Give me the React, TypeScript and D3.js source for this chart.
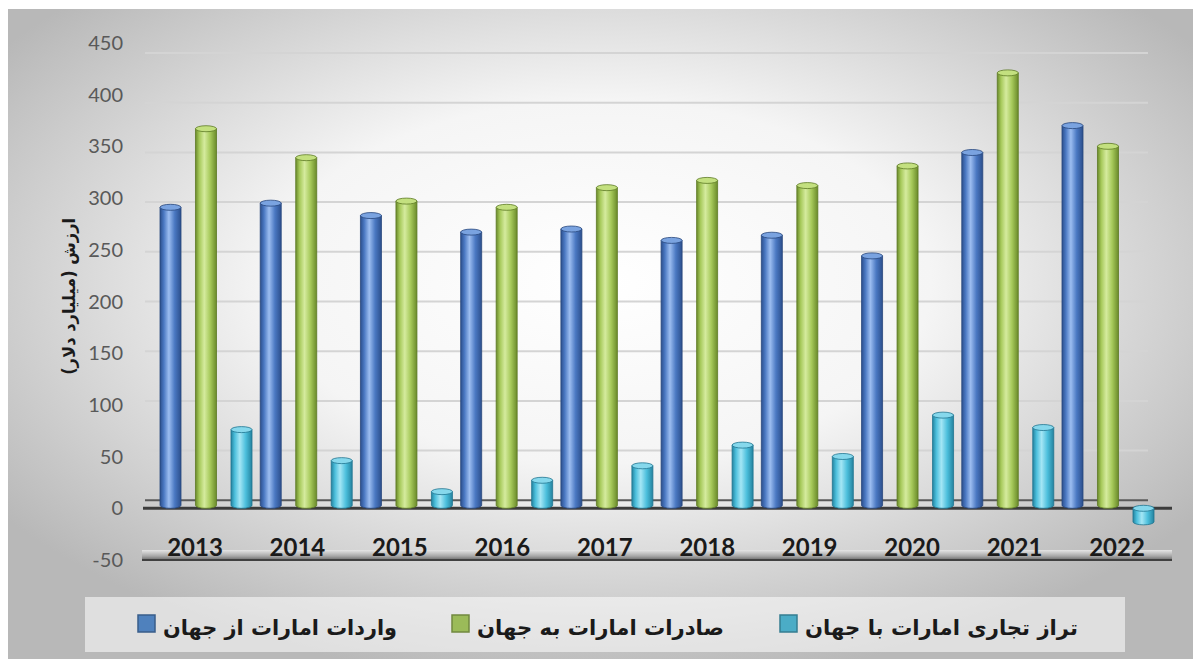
import React from 'react';
import * as d3 from 'd3';

const years = ['2013', '2014', '2015', '2016', '2017', '2018', '2019', '2020', '2021', '2022'];
const importsVals = [294, 298, 286, 270, 273, 262, 267, 247, 347, 373];
const exportsVals = [370, 342, 300, 294, 313, 320, 315, 334, 424, 353];
const balanceVals = [79, 49, 19, 30, 44, 64, 53, 93, 81, -16];
const seriesNames = ['واردات امارات از جهان', 'صادرات امارات به جهان', 'تراز تجاری امارات با جهان'];
const yTicks = [-50, 0, 50, 100, 150, 200, 250, 300, 350, 400, 450];
const yTitle = 'ارزش (میلیارد دلار)';

const W = 1193;
const H = 659;

const seriesStyle = [
  { id: 'gBlue', dark: '#2c4f8c', mid: '#4a78c2', light: '#9cbdf0', cap: '#7aa3e0', edge: '#27467c', legend: '#4f81bd', legendEdge: '#385d8a' },
  { id: 'gGreen', dark: '#6a8a2a', mid: '#a6c95a', light: '#d5eb9e', cap: '#c3e07f', edge: '#5d7a24', legend: '#9bbb59', legendEdge: '#71893f' },
  { id: 'gCyan', dark: '#24839f', mid: '#4cbfdc', light: '#a4e6f5', cap: '#86d8ec', edge: '#1f7590', legend: '#4bacc6', legendEdge: '#357d91' },
];

export default function App() {
  const series = [importsVals, exportsVals, balanceVals];
  const yFront = d3.scaleLinear().domain([-50, 450]).range([560, 43]);
  const yBack = d3.scaleLinear().domain([-50, 450]).range([550, 53]);
  const x = d3.scaleBand().domain(years).range([160, 1154]).paddingInner(0.082).paddingOuter(0);
  const xInner = d3.scaleBand<number>().domain([0, 1, 2]).range([0, x.bandwidth()]).paddingInner(0.408).paddingOuter(0);
  const xLabel = d3.scalePoint().domain(years).range([195, 1117]);
  const legendSq = d3.scaleOrdinal<number, number>().domain([0, 1, 2]).range([138, 452, 780]);
  const legendLen = d3.scaleOrdinal<number, number>().domain([0, 1, 2]).range([234, 247, 273]);

  const cyl = (bx: number, w: number, yTop: number, yBot: number) => {
    const r = 3;
    return `M${bx},${yTop + r} L${bx},${yBot} A${w / 2},${r} 0 0 0 ${bx + w},${yBot} L${bx + w},${yTop + r} Z`;
  };

  return (
    <svg width={W} height={H} style={{ position: 'absolute', left: 0, top: 0 }}>
      <defs>
        <radialGradient id="bg" cx="50%" cy="42%" r="62%">
          <stop offset="0%" stopColor="#ffffff" />
          <stop offset="45%" stopColor="#f5f5f5" />
          <stop offset="100%" stopColor="#b8b8b8" />
        </radialGradient>
        {seriesStyle.map((s) => (
          <linearGradient key={s.id} id={s.id} x1="0" x2="1" y1="0" y2="0">
            <stop offset="0%" stopColor={s.dark} />
            <stop offset="18%" stopColor={s.mid} />
            <stop offset="42%" stopColor={s.light} />
            <stop offset="70%" stopColor={s.mid} />
            <stop offset="100%" stopColor={s.dark} />
          </linearGradient>
        ))}
        <linearGradient id="floor" x1="0" x2="0" y1="0" y2="1">
          <stop offset="0%" stopColor="#e6e6e6" />
          <stop offset="60%" stopColor="#a8a8a8" />
          <stop offset="100%" stopColor="#6a6a6a" />
        </linearGradient>
      </defs>
      <rect x={0} y={0} width={W} height={H} fill="#ffffff" />
      <rect x={8} y={9} width={W - 8} height={H - 9} fill="url(#bg)" />

      {/* back-wall gridlines */}
      {yTicks.filter((t) => t > 0).map((t) => (
        <line key={t} x1={145} x2={1148} y1={yBack(t)} y2={yBack(t)} stroke="#d4d4d4" strokeWidth={2} />
      ))}
      <line x1={145} x2={1148} y1={yBack(0)} y2={yBack(0)} stroke="#5a5a5a" strokeWidth={2} />
      {/* floor front edge at -50 */}
      <rect x={142} y={yBack(-50)} width={1030} height={yFront(-50) - yBack(-50)} fill="url(#floor)" />
      <line x1={142} x2={1172} y1={yFront(-50)} y2={yFront(-50)} stroke="#404040" strokeWidth={2} />
      {/* zero plane front edge */}
      <line x1={143} x2={1172} y1={yFront(0)} y2={yFront(0)} stroke="#3c3c3c" strokeWidth={3} />

      {/* y tick labels */}
      {yTicks.map((t) => (
        <text key={t} x={123} y={yFront(t) + 7} textAnchor="end" fontFamily="Lato, 'Open Sans', sans-serif" fontSize={20} fill="#595959">
          {t}
        </text>
      ))}

      {/* y axis title */}
      <text
        transform={`translate(75, ${yFront(205)}) rotate(-90)`}
        textAnchor="middle"
        direction="rtl"
        style={{ direction: 'rtl' }}
        fontFamily="'DejaVu Sans', sans-serif"
        fontWeight="bold"
        fontSize={17}
        textLength={157}
        lengthAdjust="spacingAndGlyphs"
        fill="#1a1a1a"
      >
        {yTitle}
      </text>

      {/* bars */}
      {years.map((yr, i) => (
        <g key={yr}>
          {series.map((vals, s) => {
            const v = vals[i];
            const bx = (x(yr) as number) + (xInner(s) as number);
            const bw = xInner.bandwidth();
            const top = v >= 0 ? yFront(v) : yFront(0) - 3;
            const bot = v >= 0 ? yFront(0) - 3 : yFront(v) - 3;
            const st = seriesStyle[s];
            return (
              <g key={s}>
                <path d={cyl(bx, bw, top, bot)} fill={`url(#${st.id})`} stroke={st.edge} strokeWidth={0.8} />
                <ellipse cx={bx + bw / 2} cy={top + 3} rx={bw / 2} ry={3} fill={st.cap} stroke={st.edge} strokeWidth={0.8} />
              </g>
            );
          })}
        </g>
      ))}

      {/* x labels */}
      {years.map((yr) => (
        <text key={yr} x={xLabel(yr)} y={556} textAnchor="middle" fontFamily="Lato, 'Open Sans', sans-serif" fontWeight="bold" fontSize={24} fill="#1a1a1a">
          {yr}
        </text>
      ))}

      {/* legend */}
      <rect x={85} y={597} width={1040} height={55} fill="#ffffff" fillOpacity={0.55} />
      {seriesNames.map((name, s) => (
        <g key={name}>
          <rect x={legendSq(s)} y={615} width={17} height={17} fill={seriesStyle[s].legend} stroke={seriesStyle[s].legendEdge} strokeWidth={1.5} />
          <text
            x={legendSq(s) + 25 + legendLen(s) / 2}
            y={635}
            textAnchor="middle"
            fontFamily="'DejaVu Sans', sans-serif"
            fontWeight="bold"
            fontSize={21}
            textLength={legendLen(s)}
            lengthAdjust="spacingAndGlyphs"
            fill="#1a1a1a"
          >
            {name}
          </text>
        </g>
      ))}
    </svg>
  );
}
